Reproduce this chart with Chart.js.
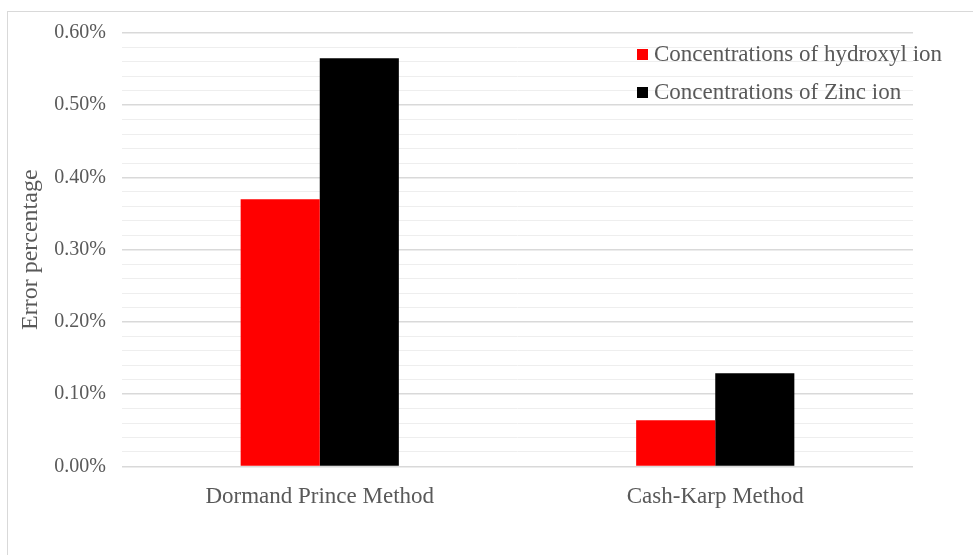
<!DOCTYPE html>
<html>
<head>
<meta charset="utf-8">
<script src="https://cdn.jsdelivr.net/npm/chart.js@4"></script>
<style>
    body { margin: 0; background: #fff; }
    .frame { position: absolute; left: 7px; top: 11px; width: 1000px; height: 600px; border-left: 1px solid #d9d9d9; border-top: 1px solid #d9d9d9; }
    .wrap { position: absolute; left: 0; top: 0; width: 973px; height: 555px; }
</style>
</head>
<body>
<div class="frame"></div>
<div class="wrap"><canvas id="myChart"></canvas></div>
<script>
// error values, in percent
const methods = ['Dormand Prince Method', 'Cash-Karp Method'];
const hydroxylError = [0.37, 0.064];
const zincError = [0.565, 0.129];
const seriesNames = ['Concentrations of hydroxyl ion', 'Concentrations of Zinc ion'];
const seriesColors = ['#ff0000', '#000000'];

const serif = 'Liberation Serif, Times New Roman, serif';
const textColor = '#595959';

//legend drawn inside the plot, top right
const innerLegend = {
    id: 'innerLegend',
    afterDraw(chart) {
        const ctx = chart.ctx;
        const area = chart.chartArea;
        ctx.save();
        ctx.font = '23px ' + serif;
        ctx.textBaseline = 'middle';
        chart.data.datasets.forEach((ds, i) => {
            const x = area.right - 276;
            const y = area.top + 22 + i * 38;
            ctx.fillStyle = ds.backgroundColor;
            ctx.fillRect(x, y - 6, 11, 11);
            ctx.fillStyle = textColor;
            ctx.fillText(ds.label, x + 17, y);
        });
        ctx.restore();
    }
};

const ctx = document.getElementById('myChart');

new Chart(ctx, {
    type: 'bar',
    data: {
        labels: methods,
        datasets: [{
            label: seriesNames[0],
            data: hydroxylError,
            backgroundColor: seriesColors[0]
        }, {
            label: seriesNames[1],
            data: zincError,
            backgroundColor: seriesColors[1]
        }]
    },
    plugins: [innerLegend],
    options: {
        responsive: true,
        maintainAspectRatio: false,
        animation: false,
        layout: {
            padding: { left: 14, right: 60, top: 33, bottom: 27 }
        },
        plugins: {
            legend: { display: false },
            tooltip: { enabled: false }
        },
        datasets: {
            bar: { categoryPercentage: 0.4, barPercentage: 1 }
        },
        scales: {
            x: {
                grid: { display: false, drawTicks: false },
                border: { display: false },
                ticks: {
                    padding: 17,
                    color: textColor,
                    font: { family: serif, size: 23 }
                }
            },
            y: {
                min: 0,
                max: 0.6,
                afterFit: (scale) => { scale.width = 108; },
                border: { display: false },
                grid: {
                    drawTicks: false,
                    color: (c) => Math.round(c.tick.value * 100) % 10 === 0 ? '#d9d9d9' : '#eeeeee',
                    lineWidth: (c) => Math.round(c.tick.value * 100) % 10 === 0 ? 1.5 : 1
                },
                ticks: {
                    stepSize: 0.02,
                    autoSkip: false,
                    padding: 16,
                    color: textColor,
                    font: { family: serif, size: 20 },
                    callback: (v) => Math.round(v * 100) % 10 === 0 ? v.toFixed(2) + '%' : ''
                },
                title: {
                    display: true,
                    text: 'Error percentage',
                    color: textColor,
                    padding: { top: 2, bottom: 0 },
                    font: { family: serif, size: 24 }
                }
            }
        }
    }
});
</script>
</body>
</html>
